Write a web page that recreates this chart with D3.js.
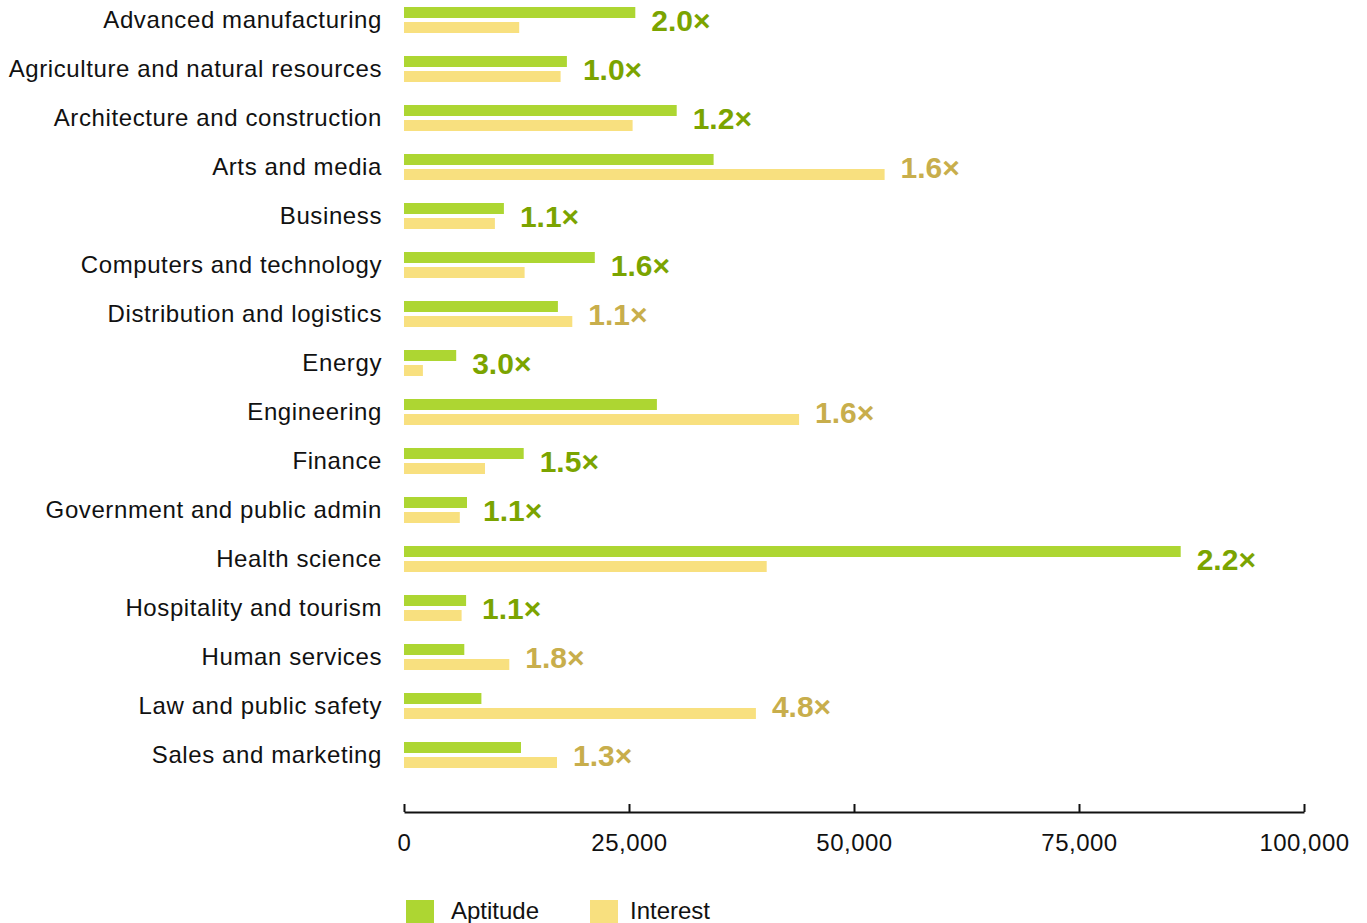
<!DOCTYPE html>
<html>
<head>
<meta charset="utf-8">
<script src="https://cdn.jsdelivr.net/npm/d3@7"></script>
<style>
  body { margin: 0; background: #fff; }
  svg { display: block; font-family: "Liberation Sans", Arial, Helvetica, sans-serif; }
</style>
</head>
<body>
<div id="chart"></div>
<script>
const categories = [
  'Advanced manufacturing', 'Agriculture and natural resources', 'Architecture and construction',
  'Arts and media', 'Business', 'Computers and technology', 'Distribution and logistics',
  'Energy', 'Engineering', 'Finance', 'Government and public admin', 'Health science',
  'Hospitality and tourism', 'Human services', 'Law and public safety', 'Sales and marketing'
];
const aptitude = [25700, 18100, 30300, 34400, 11100, 21200, 17100, 5800, 28100, 13300, 7000, 86300, 6900, 6700, 8600, 13000];
const interest = [12800, 17400, 25400, 53400, 10100, 13400, 18700, 2100, 43900, 9000, 6200, 40300, 6400, 11700, 39100, 17000];
const ratioLabels = ['2.0×', '1.0×', '1.2×', '1.6×', '1.1×', '1.6×', '1.1×', '3.0×', '1.6×', '1.5×', '1.1×', '2.2×', '1.1×', '1.8×', '4.8×', '1.3×'];
const xTicks = [0, 25000, 50000, 75000, 100000];
const seriesNames = ['Aptitude', 'Interest'];

const colors = { Aptitude: '#add632', Interest: '#f8e07f' };
const labelColors = { Aptitude: '#7ba400', Interest: '#c8ae4c' };

const width = 1367, height = 923;
const svg = d3.select('#chart').append('svg')
  .attr('width', width)
  .attr('height', height);

const x = d3.scaleLinear().domain([0, 100000]).range([404, 1304]);

const y0 = d3.scaleBand()
  .domain(categories)
  .range([-4.5, 779.5])
  .paddingInner(23 / 49)
  .paddingOuter(23 / 98);

const y1 = d3.scaleBand()
  .domain(seriesNames)
  .range([0, y0.bandwidth()])
  .paddingInner(4 / 15);

const rows = categories.map((c, i) => ({
  category: c,
  Aptitude: aptitude[i],
  Interest: interest[i],
  label: ratioLabels[i]
}));

const row = svg.selectAll('.row')
  .data(rows)
  .enter()
  .append('g')
  .attr('class', 'row')
  .attr('transform', d => `translate(0,${y0(d.category)})`);

row.selectAll('rect')
  .data(d => seriesNames.map(s => ({ key: s, value: d[s] })))
  .enter()
  .append('rect')
  .attr('x', x(0))
  .attr('y', d => y1(d.key))
  .attr('width', d => x(d.value) - x(0))
  .attr('height', y1.bandwidth())
  .attr('fill', d => colors[d.key]);

// category names
row.append('text')
  .attr('x', 382)
  .attr('y', y0.bandwidth() / 2)
  .attr('dy', '0.35em')
  .attr('text-anchor', 'end')
  .attr('font-size', '24px')
  .attr('letter-spacing', '0.6px')
  .attr('fill', '#111')
  .text(d => d.category);

// ratio labels after the longer bar
row.append('text')
  .attr('x', d => x(Math.max(d.Aptitude, d.Interest)) + 16)
  .attr('y', y0.bandwidth() / 2 + 11)
  .attr('font-size', '30px')
  .attr('font-weight', 'bold')
  .attr('fill', d => d.Aptitude >= d.Interest ? labelColors.Aptitude : labelColors.Interest)
  .text(d => d.label);

// x axis
const axis = svg.append('g')
  .attr('transform', 'translate(0,812)')
  .call(d3.axisBottom(x)
    .tickValues(xTicks)
    .tickFormat(d3.format(','))
    .tickSizeInner(-8)
    .tickSizeOuter(0)
    .tickPadding(22));

axis.select('.domain').attr('stroke', '#111').attr('stroke-width', 2);
axis.selectAll('.tick line').attr('stroke', '#111').attr('stroke-width', 2);
axis.selectAll('.tick text')
  .attr('font-size', '24px')
  .attr('letter-spacing', '0.5px')
  .attr('font-family', '"Liberation Sans", Arial, sans-serif')
  .attr('fill', '#111');

// legend
const legend = svg.append('g').attr('transform', 'translate(406,900)');
const legendItems = legend.selectAll('g')
  .data(seriesNames)
  .enter()
  .append('g')
  .attr('transform', (d, i) => `translate(${i * 184},0)`);

legendItems.append('rect')
  .attr('width', 28)
  .attr('height', 28)
  .attr('fill', d => colors[d]);

legendItems.append('text')
  .attr('x', (d, i) => i === 0 ? 45 : 40)
  .attr('y', 19)
  .attr('font-size', '24px')
  .attr('fill', '#111')
  .text(d => d);
</script>
</body>
</html>
